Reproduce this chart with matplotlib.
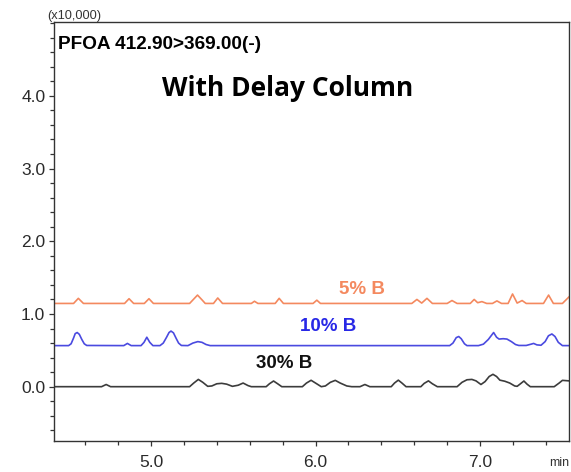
import matplotlib
matplotlib.use("Agg")
import matplotlib.pyplot as plt
from matplotlib.ticker import MultipleLocator, FixedLocator

# traces (time in min, intensity x10,000)
t_5b = [4.414, 4.53, 4.559, 4.59, 4.84, 4.867, 4.895, 4.96, 4.988, 5.015,
        5.235, 5.26, 5.283, 5.31, 5.33, 5.38, 5.406, 5.435, 5.61, 5.629, 5.65,
        5.755, 5.779, 5.805, 5.985, 6.008, 6.03, 6.585, 6.616, 6.645, 6.677, 6.71,
        6.80, 6.829, 6.86, 6.94, 6.964, 6.985, 7.011, 7.04, 7.075, 7.102, 7.13,
        7.17, 7.197, 7.225, 7.255, 7.28, 7.385, 7.416, 7.445, 7.50, 7.54]
y_5b = [1.145, 1.145, 1.215, 1.145, 1.145, 1.21, 1.145, 1.145, 1.21, 1.145,
        1.145, 1.205, 1.26, 1.195, 1.145, 1.145, 1.22, 1.145, 1.145, 1.175, 1.145,
        1.145, 1.215, 1.145, 1.145, 1.19, 1.145, 1.145, 1.2, 1.15, 1.215, 1.145,
        1.145, 1.185, 1.145, 1.145, 1.2, 1.155, 1.17, 1.145, 1.145, 1.18, 1.145,
        1.145, 1.275, 1.15, 1.185, 1.145, 1.145, 1.26, 1.145, 1.145, 1.235]

t_10b = [4.414, 4.50, 4.515, 4.53, 4.54, 4.552, 4.565, 4.58, 4.595, 4.61,
         4.835, 4.857, 4.88, 4.94, 4.958, 4.975, 4.993, 5.012,
         5.055, 5.075, 5.095, 5.11, 5.122, 5.137, 5.152, 5.168, 5.185,
         5.225, 5.255, 5.285, 5.31, 5.335, 5.36,
         6.815, 6.835, 6.855, 6.87, 6.885, 6.905, 6.92,
         6.99, 7.02, 7.05, 7.082, 7.10, 7.115, 7.14, 7.163, 7.19, 7.215, 7.235,
         7.28, 7.31, 7.325, 7.345, 7.37, 7.395, 7.415, 7.436, 7.455, 7.475, 7.50, 7.54]
y_10b = [0.565, 0.565, 0.59, 0.67, 0.73, 0.745, 0.72, 0.65, 0.59, 0.567,
         0.565, 0.595, 0.565, 0.565, 0.61, 0.68, 0.61, 0.565,
         0.565, 0.6, 0.68, 0.745, 0.765, 0.74, 0.67, 0.6, 0.567,
         0.565, 0.6, 0.62, 0.61, 0.58, 0.565,
         0.565, 0.6, 0.675, 0.69, 0.66, 0.59, 0.565,
         0.565, 0.585, 0.65, 0.745, 0.68, 0.655, 0.66, 0.655, 0.62, 0.58, 0.567,
         0.567, 0.585, 0.595, 0.575, 0.57, 0.62, 0.7, 0.725, 0.69, 0.61, 0.565, 0.565]

t_30b = [4.414, 4.70, 4.728, 4.755, 5.235, 5.26, 5.288, 5.315, 5.345, 5.37, 5.40,
         5.43, 5.46, 5.495, 5.53, 5.56, 5.59, 5.61, 5.70, 5.72, 5.745, 5.77, 5.795,
         5.92, 5.945, 5.973, 6.0, 6.035, 6.06, 6.09, 6.12, 6.15, 6.19, 6.22, 6.27,
         6.30, 6.33, 6.46, 6.48, 6.503, 6.525, 6.55, 6.64, 6.66, 6.686, 6.71, 6.74,
         6.86, 6.89, 6.92, 6.95, 6.975, 7.005, 7.03, 7.055, 7.078, 7.10, 7.12, 7.15,
         7.18, 7.21, 7.225, 7.245, 7.266, 7.285, 7.305, 7.45, 7.48, 7.50, 7.54]
y_30b = [0.0, 0.0, 0.03, 0.0, 0.0, 0.05, 0.1, 0.06, 0.005, 0.01, 0.04,
         0.046, 0.035, 0.005, 0.02, 0.05, 0.015, 0.0, 0.0, 0.04, 0.078, 0.04, 0.0,
         0.0, 0.05, 0.088, 0.05, 0.0, 0.01, 0.06, 0.087, 0.05, 0.01, 0.0, 0.0,
         0.03, 0.0, 0.0, 0.05, 0.09, 0.05, 0.0, 0.0, 0.045, 0.08, 0.04, 0.0,
         0.0, 0.06, 0.095, 0.1, 0.08, 0.03, 0.07, 0.14, 0.17, 0.14, 0.09, 0.075,
         0.05, 0.01, 0.005, 0.04, 0.078, 0.035, 0.0, 0.0, 0.05, 0.087, 0.08]

y_ticks = [0.0, 1.0, 2.0, 3.0, 4.0]
x_ticks = [5.0, 6.0, 7.0]

orange = "#f4895f"
blue = "#2828e6"
dark = "#333333"

fig = plt.figure(figsize=(5.71, 4.72), dpi=100)
ax = fig.add_axes([0.0954, 0.0663, 0.9011, 0.8871])

ax.plot(t_5b, y_5b, color=orange, lw=1.2)
ax.plot(t_10b, y_10b, color="#4a4ae0", lw=1.2)
ax.plot(t_30b, y_30b, color="#3c3c3c", lw=1.2)

ax.set_xlim(4.414, 7.54)
ax.set_ylim(-0.743, 5.016)

ax.xaxis.set_major_locator(FixedLocator(x_ticks))
ax.xaxis.set_minor_locator(MultipleLocator(0.2))
ax.yaxis.set_major_locator(FixedLocator(y_ticks))
ax.yaxis.set_minor_locator(MultipleLocator(0.2))
ax.set_xticklabels([f"{v:.1f}" for v in x_ticks])
ax.set_yticklabels([f"{v:.1f}" for v in y_ticks])
ax.tick_params(which="major", length=3.6, width=0.9, color=dark,
               labelsize=12.5, labelcolor="#2a2a2a")
ax.tick_params(axis="x", which="major", pad=6.5)
ax.tick_params(axis="y", which="major", pad=3)
ax.tick_params(which="minor", length=3.2, width=0.9, color=dark)
for lab in ax.get_xticklabels() + ax.get_yticklabels():
    lab.set_family("Liberation Sans")
for s in ax.spines.values():
    s.set_color(dark)
    s.set_linewidth(1.0)

fig.text(0.083, 0.966, "(x10,000)", fontsize=9.2, family="Liberation Sans",
         color="#333333", va="center")
fig.text(0.961, 0.019, "min", fontsize=9, family="Liberation Sans",
         color="#333333", va="center", ha="left")

ax.text(0.007, 0.947, "PFOA 412.90>369.00(-)", transform=ax.transAxes,
        fontsize=13.7, fontweight="bold", family="Liberation Sans", va="center")
ax.text(0.453, 0.840, "With Delay Column", transform=ax.transAxes,
        fontsize=19, fontweight="bold", family="Open Sans", va="center", ha="center")

ax.text(0.597, 0.362, "5% B", transform=ax.transAxes, color=orange,
        fontsize=13.5, fontweight="bold", family="Liberation Sans", ha="center", va="center")
ax.text(0.532, 0.272, "10% B", transform=ax.transAxes, color=blue,
        fontsize=13.5, fontweight="bold", family="Liberation Sans", ha="center", va="center")
ax.text(0.446, 0.185, "30% B", transform=ax.transAxes, color="#111111",
        fontsize=13.5, fontweight="bold", family="Liberation Sans", ha="center", va="center")

fig.savefig("out.png", dpi=100)
